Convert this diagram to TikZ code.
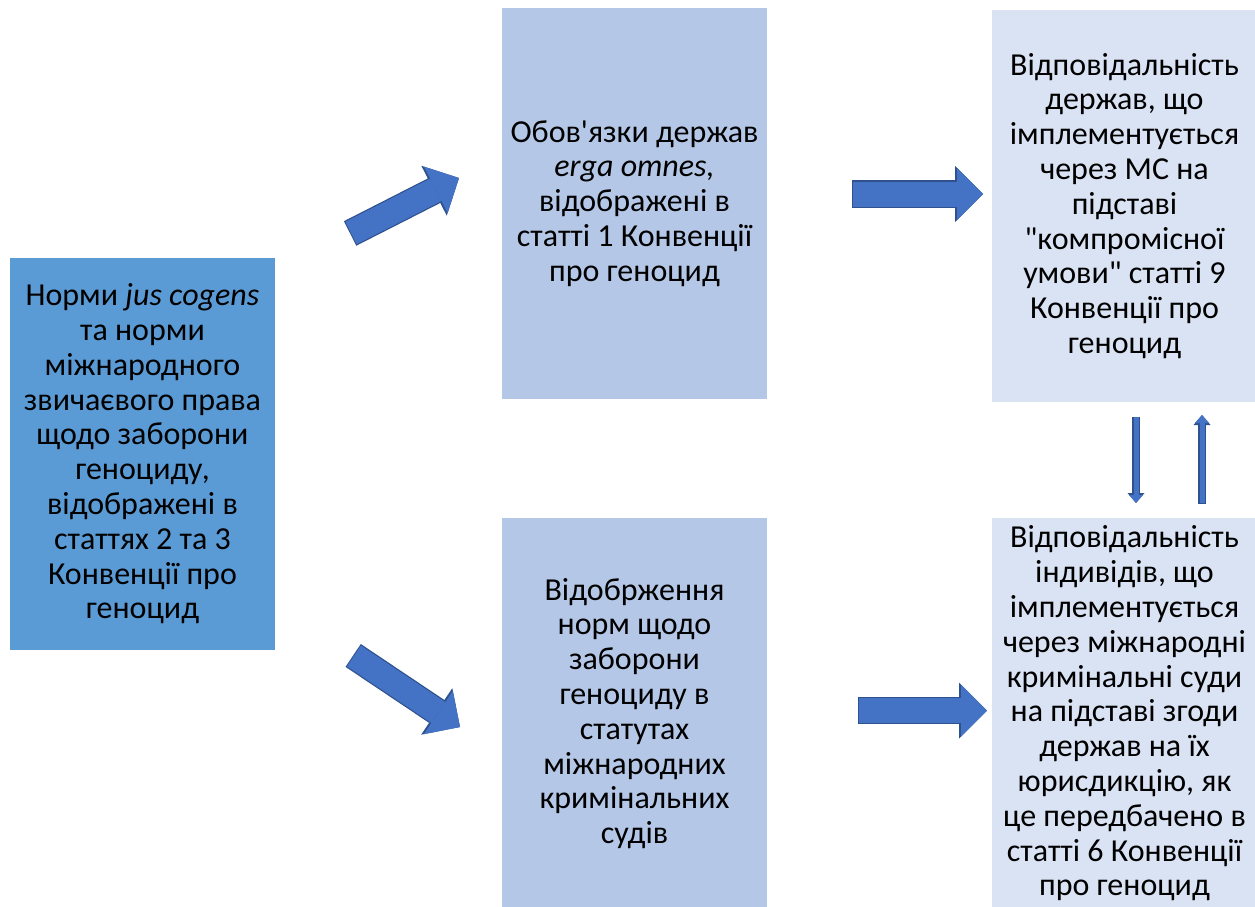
\documentclass[tikz,border=0pt]{standalone}
\usepackage{fontspec}
\newfontfamily\boxfont{Carlito}
\usepackage{xcolor}
\definecolor{gnblue}{RGB}{91,155,213}
\definecolor{gnlight}{RGB}{180,199,231}
\definecolor{gnpale}{RGB}{218,227,243}
\definecolor{gnarrow}{RGB}{68,114,196}
\definecolor{gnedge}{RGB}{47,82,143}
\usepackage{tikz}
\usetikzlibrary{arrows.meta}

\begin{document}
\begin{tikzpicture}[x=1pt,y=-1pt,
  box/.style={minimum width=265pt,minimum height=391pt,inner sep=0pt,align=center,
    font=\boxfont\fontsize{32}{34.8}\selectfont},
  bigarrow/.style={preaction={draw=gnedge,line width=27.5pt,shorten <=-1pt,
      -{Triangle[width=56pt,length=28pt,line width=0pt]}},
    draw=gnarrow,line width=25pt,-{Triangle[width=52pt,length=26pt,line width=0pt]}},
  thinarrow/.style={preaction={draw=gnedge,line width=8pt,shorten <=-0.5pt,
      -{Triangle[width=17pt,length=10pt,line width=0pt]}},
    draw=gnarrow,line width=5pt,-{Triangle[width=14pt,length=8pt,line width=0pt]}}]
  \useasboundingbox (0,0) rectangle (1255,906);

  % boxes
  \node[box,fill=gnblue,minimum height=392pt] (norms) at (142.5,454)
    {Норми \textit{jus cogens}\\та норми\\міжнародного\\звичаєвого права\\щодо заборони\\геноциду,\\відображені в\\статтях 2 та 3\\Конвенції про\\геноцид};
  \node[box,fill=gnlight] (duties) at (634.5,203.5)
    {Обов'язки держав\\\textit{erga omnes,}\\відображені в\\статті 1 Конвенції\\про геноцид};
  \node[box,fill=gnlight] (statutes) at (634.5,713.5)
    {Відобрження\\норм щодо\\заборони\\геноциду в\\статутах\\міжнародних\\кримінальних\\судів};
  \node[box,fill=gnpale,minimum height=392pt] (states) at (1124.5,206)
    {Відповідальність\\держав, що\\імплементується\\через МС на\\підставі\\"компромісної\\умови" статті 9\\Конвенції про\\геноцид};
  \node[box,fill=gnpale] (persons) at (1124.5,713.5)
    {Відповідальність\\індивідів, що\\імплементується\\через міжнародні\\кримінальні суди\\на підставі згоди\\держав на їх\\юрисдикцію, як\\це передбачено в\\статті 6 Конвенції\\про геноцид};

  % arrow ends
  \coordinate (a1s) at (351,233); \coordinate (a1e) at (459,178);
  \coordinate (a2s) at (354,656); \coordinate (a2e) at (460,727);
  \coordinate (a3s) at (853,194); \coordinate (a3e) at (983,194);
  \coordinate (a4s) at (859,710.5); \coordinate (a4e) at (987,710.5);
  \coordinate (dns) at (1136,417); \coordinate (dne) at (1136,503);
  \coordinate (ups) at (1202,503); \coordinate (upe) at (1202,415);

  \foreach \a in {1,2,3,4}{\draw[bigarrow] (a\a s) -- (a\a e);}
  \draw[thinarrow] (dns) -- (dne);
  \draw[thinarrow] (ups) -- (upe);
\end{tikzpicture}
\end{document}
